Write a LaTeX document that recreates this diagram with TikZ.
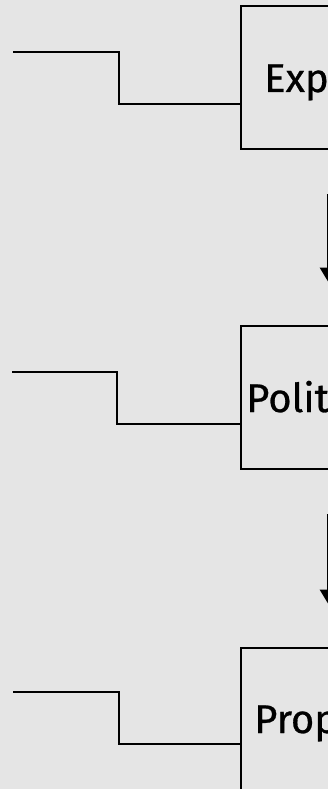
\documentclass[tikz,border=0pt]{standalone}
\usepackage{fontspec}
\setmainfont{Fira Sans}
\newfontfamily\lblfont{Fira Sans}[FakeBold=0.7]
\usetikzlibrary{arrows.meta,calc}
\begin{document}
\begin{tikzpicture}[x=1pt, y=-1pt, box/.style={draw, line width=2.8pt, minimum width=174pt, minimum height=143pt, inner sep=0pt}, wire/.style={line width=2.8pt}, flow/.style={line width=2.8pt, -{Triangle[length=14pt,width=16pt]}, shorten <=44pt, shorten >=43pt}, lbl/.style={anchor=base west, inner sep=0pt, font=\lblfont\fontsize{40}{46}\selectfont}]
\fill[gray!20] (0,0) rectangle (328,789);
\useasboundingbox (0,0) rectangle (328,789);
\node[box] (b1) at (328,77.5) {};
\node[box] (b2) at (328,397.5) {};
\node[box] (b3) at (328,719.5) {};
\node[lbl] (t1) at (264,92) {Exp};
\node[lbl] (t2) at (246,412) {Polit};
\node[lbl] (t3) at (254,733) {Prop};
\coordinate (in1) at (13,52);
\coordinate (in2) at (12,372);
\coordinate (in3) at (13,692);
\coordinate (k1) at (119,104);
\coordinate (k2) at (117,424);
\coordinate (k3) at (119,744);
\draw[wire] (in1) -| (k1) -- (k1 -| b1.west);
\draw[wire] (in2) -| (k2) -- (k2 -| b2.west);
\draw[wire] (in3) -| (k3) -- (k3 -| b3.west);
\path
(b1) edge[flow] (b2)
(b2) edge[flow] (b3);
\end{tikzpicture}
\end{document}
